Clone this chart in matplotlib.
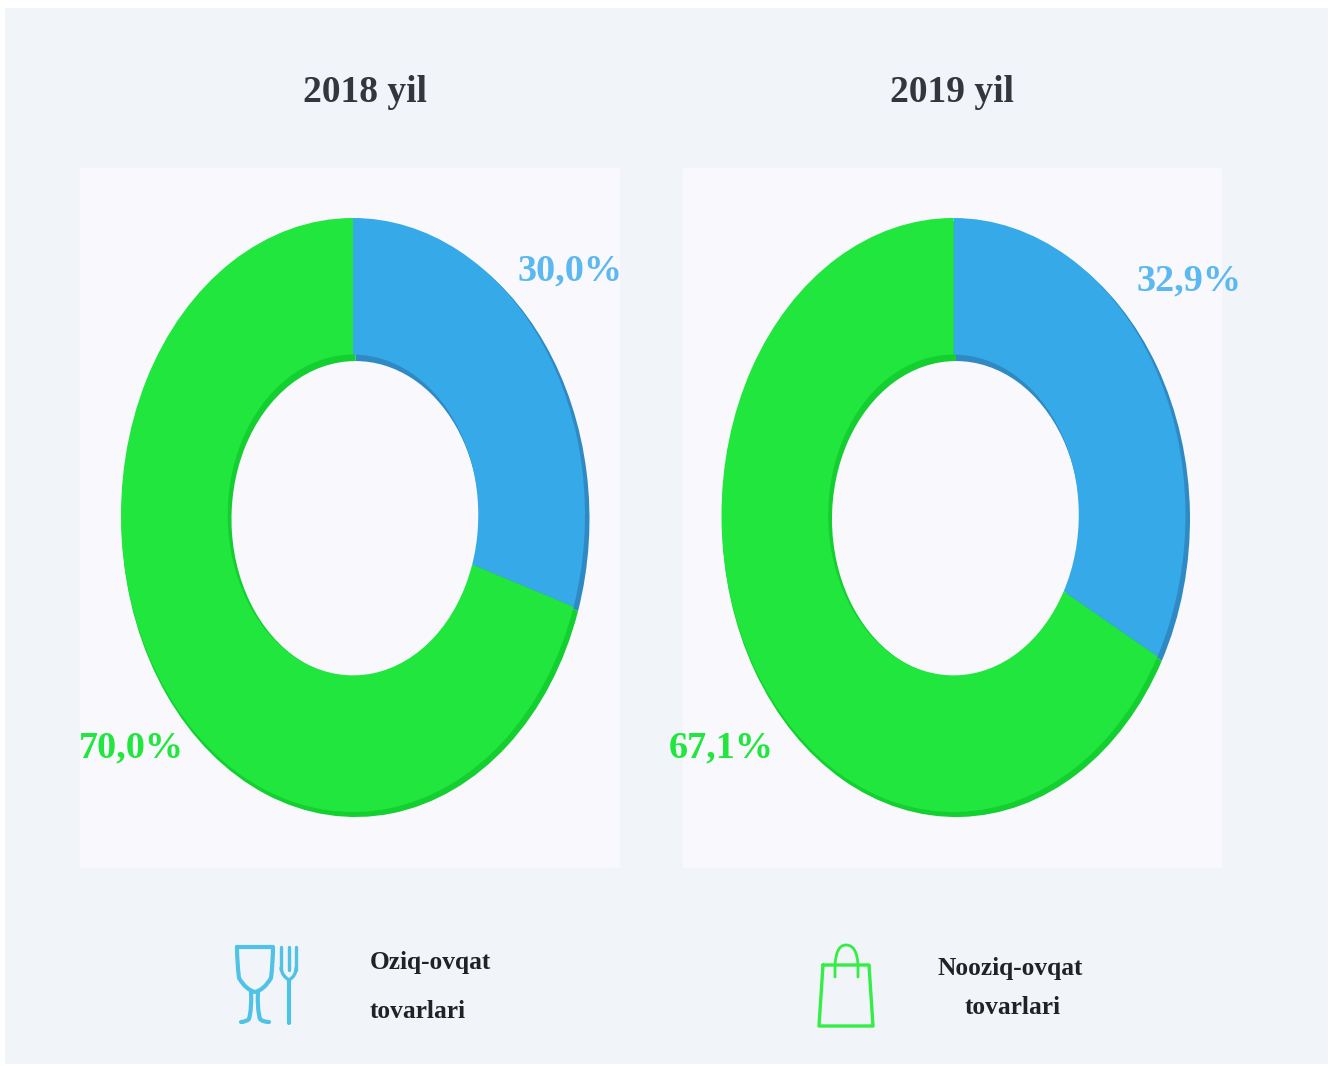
import matplotlib
matplotlib.use("Agg")
import matplotlib.pyplot as plt
from matplotlib.patches import Rectangle, PathPatch
from matplotlib.path import Path

plt.rcParams['font.family'] = ['Liberation Serif', 'DejaVu Serif']

W, H = 1332, 1066
years = ["2018 yil", "2019 yil"]
food_share = [30.0, 32.9]
nonfood_share = [70.0, 67.1]
food_labels = ["30,0%", "32,9%"]
nonfood_labels = ["70,0%", "67,1%"]
legend_food = ["Oziq-ovqat", "tovarlari"]
legend_nonfood = ["Nooziq-ovqat", "tovarlari"]

BG = "#f1f4f8"
PANEL = "#f8f8fd"
BLUE, BLUE_D = "#36a9e8", "#2f8ac4"
GREEN, GREEN_D = "#20e63e", "#13cf2f"
BLUE_T = "#5cb8f0"
TITLE = "#33373d"
LEG = "#1f2328"

fig = plt.figure(figsize=(W / 100, H / 100), dpi=100, facecolor="white")
ov = fig.add_axes([0, 0, 1, 1])
ov.set_xlim(0, W)
ov.set_ylim(H, 0)
ov.axis("off")
ov.add_patch(Rectangle((5, 8), 1323, 1056, fc=BG, ec="none"))
for x0, x1 in [(80, 620), (683, 1222)]:
    ov.add_patch(Rectangle((x0, 168), x1 - x0, 700, fc=PANEL, ec="none"))


def donut(cx, cy, rx, ry, a, b, colors, z, inner):
    m = 1.05
    ax = fig.add_axes([(cx - rx * m) / W, 1 - (cy + ry * m) / H,
                       2 * rx * m / W, 2 * ry * m / H], zorder=z)
    ax.patch.set_alpha(0)
    ax.pie([a, b], startangle=90, counterclock=False, colors=colors,
           radius=1, wedgeprops=dict(width=1 - inner, linewidth=0))
    ax.set_aspect("auto")
    ax.set_xlim(-m, m)
    ax.set_ylim(-m, m)


centers = [353, 953.5]
for i, cx in enumerate(centers):
    donut(cx + 2.5, 519, 234, 298, food_share[i], nonfood_share[i], [BLUE_D, GREEN_D], 2, 0.530)
    donut(cx, 515, 232, 297, food_share[i], nonfood_share[i], [BLUE, GREEN], 3, 0.540)

txt = fig.add_axes([0, 0, 1, 1], zorder=5)
txt.set_xlim(0, W)
txt.set_ylim(H, 0)
txt.axis("off")
txt.patch.set_alpha(0)

for x, t in zip([365, 951.5], years):
    txt.text(x, 92, t, fontsize=27, fontweight="bold", color=TITLE, ha="center", va="center")
for (x, y), t in zip([(570.5, 271), (1189.5, 281)], food_labels):
    txt.text(x, y, t, fontsize=27.5, fontweight="bold", color=BLUE_T, ha="center", va="center")
for (x, y), t in zip([(131.5, 748), (721, 748)], nonfood_labels):
    txt.text(x, y, t, fontsize=27.5, fontweight="bold", color=GREEN, ha="center", va="center")

txt.text(370, 963, legend_food[0], fontsize=18.3, fontweight="bold", color=LEG, ha="left", va="center")
txt.text(370, 1012, legend_food[1], fontsize=18.3, fontweight="bold", color=LEG, ha="left", va="center")
txt.text(1010, 969, legend_nonfood[0], fontsize=18.3, fontweight="bold", color=LEG, ha="center", va="center")
txt.text(1013, 1008, legend_nonfood[1], fontsize=18.3, fontweight="bold", color=LEG, ha="center", va="center")

# icons
M, L, C = Path.MOVETO, Path.LINETO, Path.CURVE3
def stroke(verts, codes, color, lw):
    txt.add_patch(PathPatch(Path(verts, codes), fc="none", ec=color, lw=lw,
                            capstyle="round", joinstyle="round"))

ICON = "#4fc3e6"
# wine glass
stroke([(237, 947), (273, 947), (273, 962), (271, 978), (264, 990), (255, 992),
        (246, 990), (239, 978), (237, 962), (237, 947)],
       [M, L, C, C, C, C, C, C, C, L], ICON, 3)
stroke([(251, 992), (252, 1008), (249, 1019), (246, 1022), (241, 1022)], [M, C, C, C, C], ICON, 3)
stroke([(258, 992), (257, 1008), (260, 1019), (263, 1022), (269, 1022)], [M, C, C, C, C], ICON, 3)
# fork
for x in (281, 289, 296):
    stroke([(x, 947), (x, 970)], [M, L], ICON, 2.4)
stroke([(281, 968), (282, 976), (289, 980), (296, 976), (296, 968)], [M, C, C, C, C], ICON, 2.4)
stroke([(289, 980), (289, 1023)], [M, L], ICON, 3)

# bag
BAG = "#33ee44"
stroke([(823, 965), (869, 965), (873, 1026), (819, 1026), (823, 965)], [M, L, L, L, L], BAG, 2.4)
stroke([(835, 977), (835, 965), (836, 945), (846, 945), (857, 945), (858, 965), (858, 977)],
       [M, L, C, C, C, C, L], BAG, 2)

fig.savefig("out.png", dpi=100, facecolor="white")
